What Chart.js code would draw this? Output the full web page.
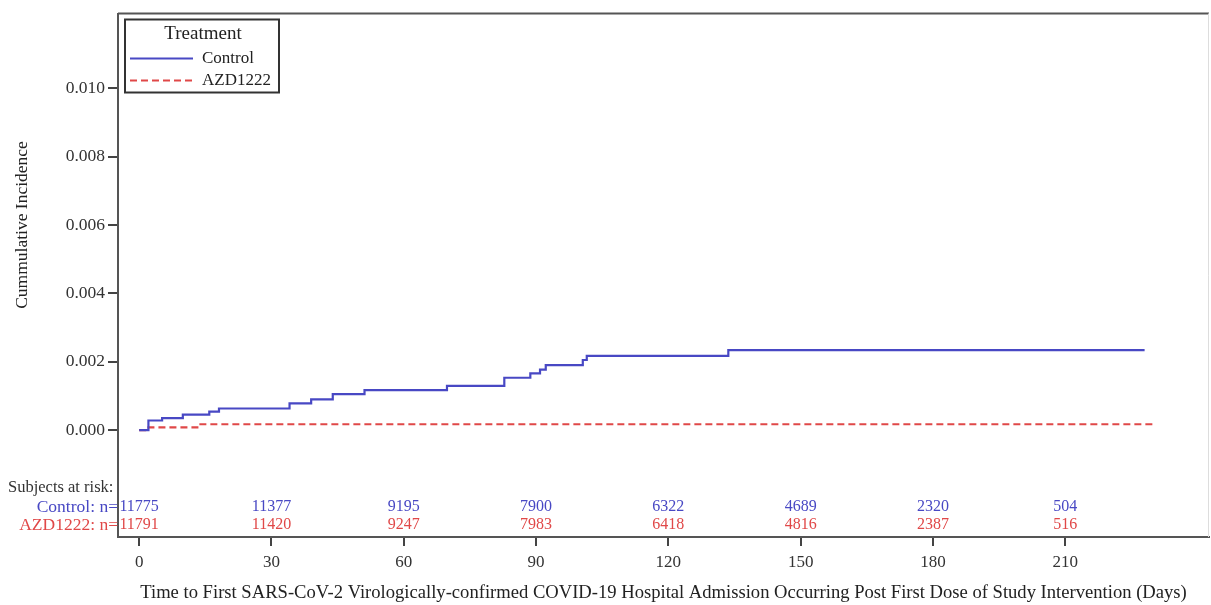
<!DOCTYPE html>
<html>
<head>
<meta charset="utf-8">
<script src="https://cdn.jsdelivr.net/npm/chart.js@4/dist/chart.umd.min.js"></script>
<style>
  html, body { margin: 0; padding: 0; background: #fff; }
  canvas { display: block; }
</style>
</head>
<body>
<canvas id="km" width="1211" height="605"></canvas>
<script>
// Kaplan-Meier style cumulative incidence (event times in days, cumulative incidence after each event)
const controlDays      = [0, 2.1, 5.2, 9.9, 15.9, 18.1, 34.1, 39.0, 43.9, 51.1, 69.8, 82.8, 88.7, 90.9, 92.2, 100.6, 101.5, 133.6, 228.0];
const controlIncidence = [0, 0.00028, 0.00035, 0.00045, 0.00054, 0.00063, 0.00078, 0.00090, 0.00105, 0.00117, 0.00129, 0.00153, 0.00166, 0.00177, 0.00190, 0.00205, 0.00217, 0.00234, 0.00234];
const azdDays          = [0, 1.7, 13.6, 230.0];
const azdIncidence     = [0, 0.00008, 0.00017, 0.00017];

// Axis ticks
const xTicks = [0, 30, 60, 90, 120, 150, 180, 210];
const yTicks = [0.000, 0.002, 0.004, 0.006, 0.008, 0.010];

// Numbers at risk
const atRiskDays    = [0, 30, 60, 90, 120, 150, 180, 210];
const controlAtRisk = [11775, 11377, 9195, 7900, 6322, 4689, 2320, 504];
const azdAtRisk     = [11791, 11420, 9247, 7983, 6418, 4816, 2387, 516];

const seriesNames = ['Control', 'AZD1222'];
const yTitle = 'Cummulative Incidence';
const BLUE = 'rgb(72, 72, 196)';
const RED = 'rgb(224, 72, 72)';
const SERIF = '"Liberation Serif", "DejaVu Serif", "Times New Roman", serif';

Chart.defaults.font.family = SERIF;
Chart.defaults.color = '#333';

const toPoints = (xs, ys) => xs.map((x, i) => ({ x: x, y: ys[i] }));

// Frame around the plot area, y title, in-plot legend and at-risk table
const decorations = {
  id: 'decorations',
  afterDraw(chart) {
    const ctx = chart.ctx;
    const area = chart.chartArea;
    const xs = chart.scales.x;
    const ys = chart.scales.y;
    ctx.save();

    // top and right edges of the frame
    ctx.strokeStyle = '#555';
    ctx.lineWidth = 2;
    ctx.beginPath();
    ctx.moveTo(area.left, area.top);
    ctx.lineTo(area.right, area.top);
    ctx.stroke();
    ctx.strokeStyle = '#ddd';
    ctx.lineWidth = 1;
    ctx.beginPath();
    ctx.moveTo(area.right - 0.5, area.top);
    ctx.lineTo(area.right - 0.5, area.bottom);
    ctx.stroke();

    // y axis title, centred on the ticked part of the axis
    ctx.save();
    ctx.translate(22, ys.getPixelForValue(0.006));
    ctx.rotate(-Math.PI / 2);
    ctx.font = '17.5px ' + SERIF;
    ctx.fillStyle = '#222';
    ctx.textAlign = 'center';
    ctx.textBaseline = 'middle';
    ctx.fillText(yTitle, 0, 0);
    ctx.restore();

    // legend box
    const lx = area.left + 7, ly = area.top + 6, lw = 154, lh = 73;
    ctx.strokeStyle = '#333';
    ctx.lineWidth = 2;
    ctx.strokeRect(lx, ly, lw, lh);
    ctx.fillStyle = '#222';
    ctx.textBaseline = 'middle';
    ctx.textAlign = 'center';
    ctx.font = '19px ' + SERIF;
    ctx.fillText('Treatment', lx + 78, ly + 15);
    ctx.font = '17px ' + SERIF;
    ctx.textAlign = 'left';
    chart.data.datasets.forEach((ds, i) => {
      const y = ly + 39 + i * 22;
      ctx.strokeStyle = ds.borderColor;
      ctx.lineWidth = 2;
      ctx.setLineDash(ds.borderDash || []);
      ctx.beginPath();
      ctx.moveTo(lx + 5, y);
      ctx.lineTo(lx + 68, y);
      ctx.stroke();
      ctx.setLineDash([]);
      ctx.fillStyle = '#222';
      ctx.fillText(ds.label, lx + 77, y);
    });

    // subjects at risk
    const rowC = area.bottom - 30, rowA = area.bottom - 12;
    ctx.font = '16.5px ' + SERIF;
    ctx.fillStyle = '#333';
    ctx.textAlign = 'left';
    ctx.fillText('Subjects at risk:', 8, area.bottom - 49);
    ctx.font = '17.5px ' + SERIF;
    ctx.textAlign = 'right';
    ctx.fillStyle = BLUE;
    ctx.fillText(seriesNames[0] + ': n=', area.left, rowC);
    ctx.fillStyle = RED;
    ctx.fillText(seriesNames[1] + ': n=', area.left, rowA);
    ctx.font = '16px ' + SERIF;
    ctx.textAlign = 'center';
    atRiskDays.forEach((d, i) => {
      const px = xs.getPixelForValue(d);
      ctx.fillStyle = BLUE;
      ctx.fillText(String(controlAtRisk[i]), px, rowC);
      ctx.fillStyle = RED;
      ctx.fillText(String(azdAtRisk[i]), px, rowA);
    });
    ctx.restore();
  }
};

new Chart(document.getElementById('km'), {
  type: 'line',
  data: {
    datasets: [
      {
        label: seriesNames[0],
        data: toPoints(controlDays, controlIncidence),
        borderColor: BLUE,
        borderWidth: 2.2,
        stepped: 'before',
        pointRadius: 0,
        fill: false
      },
      {
        label: seriesNames[1],
        data: toPoints(azdDays, azdIncidence),
        borderColor: RED,
        borderWidth: 2.2,
        borderDash: [7, 4],
        stepped: 'before',
        pointRadius: 0,
        fill: false
      }
    ]
  },
  options: {
    responsive: false,
    devicePixelRatio: 1,
    animation: false,
    layout: { padding: { left: 0, top: 13, right: 2, bottom: 0 } },
    plugins: {
      legend: { display: false },
      tooltip: { enabled: false }
    },
    scales: {
      x: {
        type: 'linear',
        min: -4.8,
        max: 242.6,
        afterBuildTicks: (s) => { s.ticks = xTicks.map(v => ({ value: v })); },
        afterFit: (s) => { s.height = 68; },
        grid: { drawOnChartArea: false, drawTicks: true, tickLength: 9, color: '#444', lineWidth: 2 },
        border: { display: true, color: '#555', width: 2 },
        ticks: { font: { size: 17 }, color: '#333', padding: 6, maxRotation: 0, callback: (v) => String(v) },
        title: {
          display: true,
          text: 'Time to First SARS-CoV-2 Virologically-confirmed COVID-19 Hospital Admission Occurring Post First Dose of Study Intervention (Days)',
          font: { size: 18.6 },
          color: '#222',
          padding: { top: 2, bottom: 1 }
        }
      },
      y: {
        min: -0.00313,
        max: 0.01219,
        afterBuildTicks: (s) => { s.ticks = yTicks.map(v => ({ value: v })); },
        afterFit: (s) => { s.width = 118; },
        grid: { drawOnChartArea: false, drawTicks: true, tickLength: 10, color: '#444', lineWidth: 2 },
        border: { display: true, color: '#555', width: 2 },
        ticks: { font: { size: 17.5 }, color: '#333', padding: 3, callback: (v) => Number(v).toFixed(3) },
        title: { display: false }
      }
    }
  },
  plugins: [decorations]
});
</script>
</body>
</html>
